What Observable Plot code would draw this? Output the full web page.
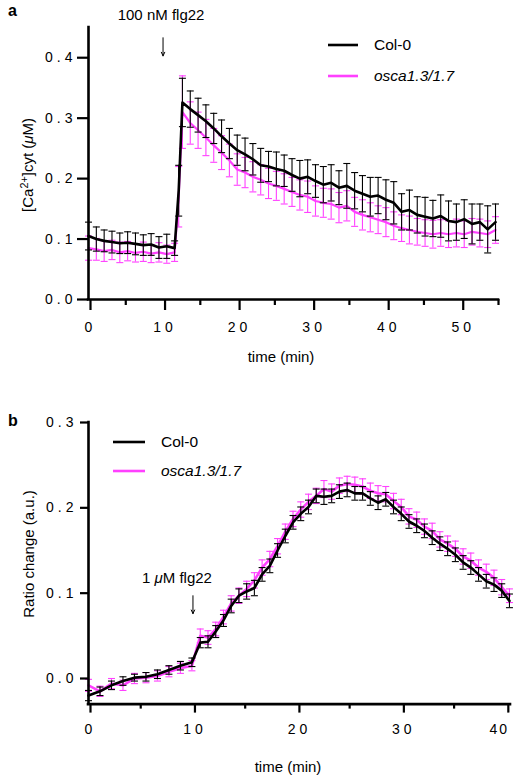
<!DOCTYPE html>
<html><head><meta charset="utf-8">
<script src="https://cdn.jsdelivr.net/npm/d3@7"></script>
<script src="https://cdn.jsdelivr.net/npm/@observablehq/plot@0.6"></script>
<style>
body{margin:0;background:#fff;}
#chart{position:relative;width:517px;height:779px;overflow:hidden;}
#chart svg{display:block;}
</style></head><body><div id="chart"></div>
<script>
// ---------- data ----------
const seriesNames = ["Col-0", "osca1.3/1.7"];
const seriesColors = ["#000000", "#ff40ff"];

// panel a
const timeA = [0,1.05,2.1,3.15,4.2,5.25,6.3,7.35,8.4,9.45,10.5,11.55,12.1,12.6,13.65,14.7,15.75,16.8,17.85,18.9,19.95,21,22.05,23.1,24.15,25.2,26.25,27.3,28.35,29.4,30.45,31.5,32.55,33.6,34.65,35.7,36.75,37.8,38.85,39.9,40.95,42,43.05,44.1,45.15,46.2,47.25,48.3,49.35,50.4,51.45,52.5,53.55,54.6];
const colA = [0.105,0.100,0.097,0.095,0.093,0.094,0.092,0.090,0.091,0.086,0.088,0.085,0.180,0.326,
  0.315,0.305,0.295,0.283,0.270,0.258,0.247,0.240,0.232,0.222,
  0.220,0.216,0.213,0.206,0.200,0.203,0.196,0.190,0.193,0.185,
  0.188,0.180,0.175,0.170,0.172,0.165,0.160,0.145,0.148,0.140,
  0.137,0.134,0.138,0.130,0.128,0.133,0.125,0.128,0.116,0.128];
const colAErr = [0.023,0.020,0.018,0.018,0.017,0.018,0.018,0.017,0.018,0.018,0.020,0.012,0.042,0.040,
  0.030,0.028,0.027,0.025,0.027,0.025,0.025,0.027,0.026,0.028,
  0.025,0.028,0.026,0.027,0.030,0.028,0.027,0.030,0.030,0.028,
  0.037,0.030,0.030,0.032,0.030,0.033,0.035,0.030,0.033,0.030,
  0.032,0.030,0.035,0.033,0.030,0.032,0.033,0.030,0.039,0.030];
const oscaA = [0.085,0.083,0.080,0.082,0.078,0.080,0.077,0.079,0.076,0.078,0.075,0.078,0.170,0.310,
  0.292,0.280,0.268,0.255,0.243,0.230,0.215,0.210,0.203,0.198,
  0.192,0.188,0.183,0.178,0.173,0.170,0.163,0.160,0.158,0.152,
  0.155,0.145,0.140,0.136,0.132,0.128,0.122,0.118,0.115,0.112,
  0.110,0.108,0.110,0.108,0.110,0.108,0.112,0.110,0.108,0.115];
const oscaAErr = [0.020,0.018,0.017,0.016,0.017,0.016,0.015,0.016,0.015,0.016,0.015,0.015,0.050,0.060,
  0.035,0.030,0.030,0.028,0.028,0.027,0.026,0.025,0.025,0.025,
  0.025,0.024,0.025,0.024,0.025,0.026,0.025,0.024,0.025,0.025,
  0.025,0.024,0.025,0.024,0.023,0.024,0.023,0.022,0.023,0.022,
  0.022,0.023,0.022,0.022,0.023,0.022,0.022,0.023,0.022,0.022];
const xTicksA = [0,10,20,30,40,50];
const xMinorA = [5,15,25,35,45,55];
const yTicksA = [0,0.1,0.2,0.3,0.4];
const annotA = [{t:10, label:"100 nM flg22", yText:0.471, yFrom:0.433, yTo:0.403}];

// panel b
const timeB = [0,1.1,2.2,3.3,4.4,5.5,6.6,7.7,8.8,9.9,
  10.7,11.44,12.18,12.92,13.66,14.4,15.14,15.88,16.62,17.36,
  18.1,18.84,19.58,20.32,21.06,21.8,22.54,23.28,24.02,24.76,
  25.5,26.24,26.98,27.72,28.46,29.2,29.94,30.68,31.42,32.16,
  32.9,33.64,34.38,35.12,35.86,36.6,37.34,38.08,38.82,39.56,40.3];
const colB = [-0.020,-0.015,-0.008,-0.003,0.001,0.002,0.005,0.010,0.015,0.019,
  0.042,0.043,0.055,0.068,0.085,0.097,0.102,0.106,0.122,0.132,
  0.150,0.167,0.183,0.193,0.201,0.214,0.213,0.214,0.219,0.221,
  0.217,0.217,0.211,0.206,0.210,0.201,0.193,0.184,0.179,0.173,
  0.165,0.158,0.152,0.145,0.136,0.130,0.122,0.114,0.110,0.103,0.091];
const colBErr = [0.006,0.005,0.005,0.005,0.004,0.005,0.005,0.005,0.005,0.005,
  0.006,0.007,0.007,0.007,0.008,0.008,0.009,0.009,0.008,0.008,
  0.008,0.008,0.008,0.008,0.008,0.008,0.009,0.008,0.008,0.008,
  0.008,0.008,0.008,0.008,0.008,0.008,0.008,0.008,0.008,0.008,
  0.008,0.008,0.008,0.008,0.008,0.008,0.008,0.008,0.008,0.008,0.008];
const oscaB = [-0.008,-0.015,-0.006,-0.008,0.000,0.001,0.003,0.008,0.012,0.015,
  0.050,0.048,0.058,0.072,0.088,0.097,0.105,0.115,0.130,0.140,
  0.155,0.172,0.187,0.198,0.207,0.214,0.222,0.219,0.226,0.228,
  0.227,0.225,0.220,0.217,0.216,0.208,0.201,0.190,0.186,0.178,
  0.173,0.163,0.158,0.152,0.143,0.138,0.130,0.125,0.118,0.107,0.097];
const oscaBErr = [0.007,0.006,0.006,0.006,0.006,0.006,0.006,0.006,0.006,0.006,
  0.008,0.008,0.008,0.008,0.009,0.009,0.009,0.009,0.009,0.009,
  0.009,0.009,0.009,0.009,0.009,0.009,0.010,0.009,0.009,0.009,
  0.009,0.009,0.009,0.009,0.009,0.009,0.009,0.009,0.009,0.009,
  0.009,0.009,0.009,0.009,0.009,0.009,0.009,0.009,0.009,0.009,0.008];
const xTicksB = [0,10,20,30,40];
const xMinorB = [5,15,25,35];
const yTicksB = [0,0.1,0.2,0.3];
const annotB = [{t:10, label:"1 μM flg22", yText:0.117, yFrom:0.097, yTo:0.076}];

// ---------- helpers ----------
const FONT = "'Liberation Sans', Arial, Helvetica, sans-serif";
const capSymbol = {draw(ctx, size){ const r = Math.sqrt(size/Math.PI); ctx.moveTo(-r,0); ctx.lineTo(r,0); }};
function rows(t, m, e){ return t.map((x,i)=>({t:x, m:m[i], e:e[i]})); }
function seriesMarks(data, color, lw){
  return [
    Plot.ruleX(data, {x:"t", y1:d=>d.m-d.e, y2:d=>d.m+d.e, stroke:color, strokeWidth:1.1}),
    Plot.dot(data, {x:"t", y:d=>d.m+d.e, symbol:capSymbol, r:3.5, stroke:color, fill:"none", strokeWidth:1.1}),
    Plot.dot(data, {x:"t", y:d=>d.m-d.e, symbol:capSymbol, r:3.5, stroke:color, fill:"none", strokeWidth:1.1}),
    Plot.line(data, {x:"t", y:"m", stroke:color, strokeWidth:lw, strokeLinejoin:"round"})
  ];
}
function spacing(svg, px){
  d3.select(svg).selectAll('g[aria-label="x-axis tick label"] text, g[aria-label="y-axis tick label"] text')
    .attr("letter-spacing", px);
}
// put a title text at an exact position (screen space), independent of mark offsets
function place(svg, plain, x, y, rotate){
  d3.select(svg).selectAll("text").each(function(){
    if (this.textContent === plain) {
      const p = this.parentNode;
      if (p && p.tagName === "g") p.removeAttribute("transform");
      d3.select(this).attr("dx", null).attr("dy", "0.32em").attr("y", null).attr("x", null)
        .attr("text-anchor", "middle")
        .attr("transform", `translate(${x},${y})` + (rotate ? ` rotate(${rotate})` : ""));
    }
  });
}
function rich(svg, plain, parts){
  d3.select(svg).selectAll("text").each(function(){
    if (this.textContent === plain) {
      const el = d3.select(this); el.text(null);
      let shift = 0;
      parts.forEach(p=>{
        const ts = el.append("tspan").text(p.t);
        if (p.italic) ts.attr("font-style","italic");
        if (p.sup) { ts.attr("font-size","0.72em").attr("dy","-0.45em"); shift = 1; }
        else if (shift) { ts.attr("dy","0.325em"); shift = 0; }
      });
    }
  });
}
function legend(svg, x1, x2, ys, tx){
  const g = d3.select(svg).append("g").attr("font-family", FONT).attr("font-size", 15.5).attr("text-anchor","start");
  seriesNames.forEach((n,i)=>{
    g.append("line").attr("x1",x1).attr("x2",x2).attr("y1",ys[i]).attr("y2",ys[i])
      .attr("stroke",seriesColors[i]).attr("stroke-width",2.6);
    g.append("text").attr("x",tx).attr("y",ys[i]).attr("dy","0.35em")
      .attr("font-style", i===1 ? "italic" : null).attr("fill","#000").text(n);
  });
}
function panelLetter(svg, letter, x, y){
  d3.select(svg).append("text").attr("x",x).attr("y",y).attr("font-family",FONT).attr("text-anchor","start")
    .attr("font-weight","bold").attr("font-size",16).attr("fill","#000").text(letter);
}

// ---------- panel a ----------
const aCol = rows(timeA, colA, colAErr), aOsca = rows(timeA, oscaA, oscaAErr);
const svgA = Plot.plot({
  width:517, height:380, marginLeft:88, marginRight:19, marginTop:27, marginBottom:81,
  x:{domain:[0,55]}, y:{domain:[0,0.45]},
  style:{fontFamily:FONT, fontSize:"14px", color:"#000", background:"#fff", overflow:"visible"},
  marks:[
    ...seriesMarks(aOsca, seriesColors[1], 2.2),
    ...seriesMarks(aCol, seriesColors[0], 2.6),
    Plot.ruleY([0], {strokeWidth:2.6, strokeLinecap:"square"}),
    Plot.ruleX([0], {strokeWidth:2.6, strokeLinecap:"square"}),
    Plot.axisX(xTicksA, {tickSize:11, tickPadding:12, strokeWidth:2.2, fontSize:14, dx:2, tickFormat:d=>String(d), label:null}),
    Plot.axisX(xMinorA, {tickSize:6, strokeWidth:2.2, text:null, label:null}),
    Plot.axisY(yTicksA, {tickSize:11, tickPadding:1, strokeWidth:2.2, fontSize:14, tickFormat:d3.format(".1f"), label:null}),
    Plot.text(["time (min)"], {frameAnchor:"bottom", fontSize:15}),
    Plot.text(["[Ca2+]cyt (μM)"], {frameAnchor:"left", rotate:-90, fontSize:15}),
    Plot.text(annotA, {x:"t", y:"yText", text:"label", dx:-2, fontSize:15}),
    Plot.arrow(annotA, {x1:"t", x2:"t", y1:"yFrom", y2:"yTo", strokeWidth:1, headLength:6, headAngle:50})
  ]
});
spacing(svgA, 4);
place(svgA, "time (min)", 281, 357, 0);
place(svgA, "[Ca2+]cyt (μM)", 28, 165, -90);
rich(svgA, "[Ca2+]cyt (μM)", [{t:"[Ca"},{t:"2+",sup:true},{t:"]cyt ("},{t:"μ",italic:true},{t:"M)"}]);
legend(svgA, 328, 358, [45, 76], 374);
panelLetter(svgA, "a", 8, 16);
document.getElementById("chart").append(svgA);

// ---------- panel b ----------
const bCol = rows(timeB, colB, colBErr), bOsca = rows(timeB, oscaB, oscaBErr);
const svgB = Plot.plot({
  width:517, height:399, marginLeft:88, marginRight:7, marginTop:42, marginBottom:75.4,
  x:{domain:[0,40.4]}, y:{domain:[-0.03,0.3]},
  style:{fontFamily:FONT, fontSize:"14px", color:"#000", background:"#fff", overflow:"visible"},
  marks:[
    ...seriesMarks(bOsca, seriesColors[1], 2.6),
    ...seriesMarks(bCol, seriesColors[0], 2.6),
    Plot.ruleY([-0.03], {strokeWidth:2.6, strokeLinecap:"square"}),
    Plot.ruleX([0], {strokeWidth:2.6, strokeLinecap:"square"}),
    Plot.axisX(xTicksB, {tickSize:9, tickPadding:11, strokeWidth:2.2, fontSize:14, dx:2, tickFormat:d=>String(d), label:null}),
    Plot.axisX(xMinorB, {tickSize:5, strokeWidth:2.2, text:null, label:null}),
    Plot.axisY(yTicksB, {tickSize:8, tickPadding:3, strokeWidth:2.2, fontSize:14, tickFormat:d3.format(".1f"), label:null}),
    Plot.text(["time (min)"], {frameAnchor:"bottom", fontSize:15}),
    Plot.text(["Ratio change (a.u.)"], {frameAnchor:"left", rotate:-90, fontSize:15}),
    Plot.text(annotB, {x:"t", y:"yText", text:"label", dx:-16, fontSize:15}),
    Plot.arrow(annotB, {x1:"t", x2:"t", y1:"yFrom", y2:"yTo", strokeWidth:1, headLength:6, headAngle:50})
  ]
});
spacing(svgB, 4);
// keep the last x tick label ("40") inside the page
d3.select(svgB).selectAll('g[aria-label="x-axis tick label"] text').each(function(){
  if (this.textContent === "40") {
    const tr = this.getAttribute("transform") || "";
    this.setAttribute("transform", tr + " translate(-9,0)");
    this.setAttribute("letter-spacing", 2);
  }
});
place(svgB, "time (min)", 288, 387, 0);
place(svgB, "Ratio change (a.u.)", 29, 174, -90);
rich(svgB, "1 μM flg22", [{t:"1 "},{t:"μ",italic:true},{t:"M flg22"}]);
legend(svgB, 113, 145, [62, 91], 161);
panelLetter(svgB, "b", 8, 46);
document.getElementById("chart").append(svgB);
</script></body></html>
